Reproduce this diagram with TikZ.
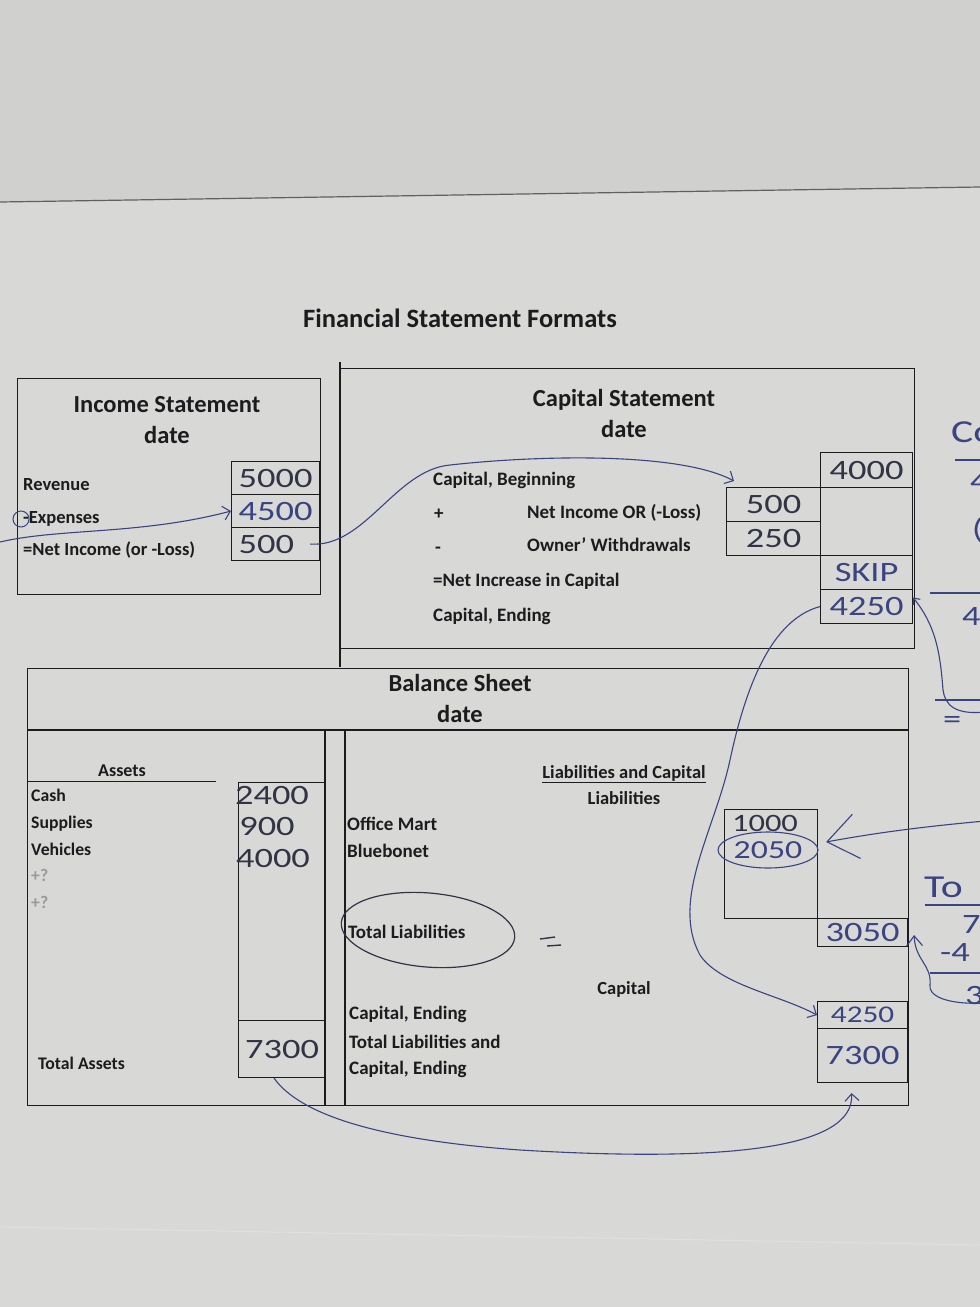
\documentclass[tikz,border=0pt]{standalone}
\usepackage{fontspec}
\setmainfont{Carlito}
\newfontfamily\handfont[FakeStretch=1.3]{Carlito}
\usetikzlibrary{arrows.meta}
\definecolor{paper}{RGB}{216,216,214}
\definecolor{papertop}{RGB}{208,208,206}
\definecolor{ink}{RGB}{28,28,30}
\definecolor{pen}{RGB}{58,68,128}
\definecolor{pencil}{RGB}{50,52,70}
\tikzset{
 ttl/.style={font=\bfseries\fontsize{24.5}{27}\selectfont, text=ink, inner sep=0, anchor=base},
 lbl/.style={font=\bfseries\fontsize{19}{22}\selectfont, text=ink, inner sep=0, anchor=base west},
 islbl/.style={font=\bfseries\fontsize{18.5}{21}\selectfont, text=ink, inner sep=0, anchor=base west},
 slbl/.style={font=\bfseries\fontsize{17.7}{20}\selectfont, text=ink, inner sep=0, anchor=base west},
 clbl/.style={font=\bfseries\fontsize{18.5}{21}\selectfont, text=ink, inner sep=0, anchor=base},
 frame/.style={draw=ink, line width=1.3pt, inner sep=0, anchor=north west},
 cell/.style={draw=ink, line width=1.1pt, inner sep=0, anchor=north west},
 hw/.style={font=\handfont\fontsize{28}{30}\selectfont, text=pencil},
 hwb/.style={font=\handfont\fontsize{28}{30}\selectfont, text=pen},
 penline/.style={draw=pen, line width=1.1pt},
 barb/.style={-{Straight Barb[length=7pt,width=14pt]}},
}
\begin{document}
\begin{tikzpicture}[x=1pt,y=-1pt]
\fill[paper] (0,0) rectangle (980,1307);
\fill[papertop] (0,0) -- (980,0) -- (980,187) -- (0,202) -- cycle;
\useasboundingbox (0,0) rectangle (980,1307);
\begin{scope}
\clip (0,0) rectangle (980,1307);
\draw[ink!70, line width=1.2pt] (0,202) -- (980,187);
\draw[black!12, line width=1pt] (0,1227) -- (980,1245);

% title
\node[ttl, font=\bfseries\fontsize{26.5}{29}\selectfont] (title) at (460,327) {Financial Statement Formats};

% income statement
\node[frame, minimum width=303, minimum height=216] (isframe) at (17,378) {};
\node[ttl] (istitle) at (167,412) {Income Statement};
\node[ttl] (isdate) at (167,443) {date};
\node[islbl] (isrevl) at (23,490) {Revenue};
\node[islbl] (isexpl) at (23,523) {-Expenses};
\node[islbl] (isnil) at (23,555) {=Net Income (or -Loss)};
\node[cell, hw, minimum width=88, minimum height=33] (isrev) at (231,461) {5000};
\node[cell, hwb, minimum width=88, minimum height=33] (isexp) at (231,494) {4500};
\node[cell, hw, minimum width=88, minimum height=33] (isni) at (231,527) {500\phantom{0}};
\node[draw=pen, line width=1pt, circle, minimum size=16, inner sep=0] (minuscirc) at (21,519) {};
\coordinate (expstart) at (0,542);
\draw[penline, barb] (expstart) .. controls (60,528) and (140,535) .. (isexp.west);

% capital statement
\node[frame, minimum width=574, minimum height=280] (csframe) at (340,368) {};
\draw[ink, line width=1.3pt] (340,362) -- (340,667);
\node[ttl] (cstitle) at (624,406) {Capital Statement};
\node[ttl] (csdate) at (624,437) {date};
\node[lbl] (csbeg) at (433,485) {Capital, Beginning};
\node[lbl] (csplus) at (434,519) {+};
\node[lbl] (csni) at (527,518) {Net Income OR (-Loss)};
\node[lbl] (csminus) at (435,553) {-};
\node[lbl] (csow) at (527,551) {Owner' Withdrawals};
\node[lbl] (csinc) at (433,586) {=Net Increase in Capital};
\node[lbl] (csend) at (433,621) {Capital, Ending};
\node[cell, hw, minimum width=92, minimum height=35] (cs4000) at (820,452) {4000};
\node[cell, minimum width=92, minimum height=68] (csgap) at (820,487) {};
\node[cell, hwb, minimum width=92, minimum height=34] (csskip) at (820,555) {SKIP};
\node[cell, hwb, minimum width=92, minimum height=34] (cs4250) at (820,589) {4250};
\node[cell, hw, minimum width=94, minimum height=34] (cs500) at (726,487) {500};
\node[cell, hw, minimum width=94, minimum height=34] (cs250) at (726,521) {250};
\draw[penline, barb] ([xshift=-10]isni.east) .. controls (365,548) and (395,470) .. (450,465)
  .. controls (540,455) and (680,452) .. ([shift={(8,-6)}]cs500.north west);

% balance sheet
\node[frame, minimum width=881, minimum height=437] (bsframe) at (27,668) {};
\node[ttl] (bstitle) at (460,691) {Balance Sheet};
\node[ttl] (bsdate) at (460,722) {date};
\draw[ink, line width=2.2pt] (27,730) -- (908,730);
\draw[ink, line width=1.2pt] (325,730) -- (325,1105);
\draw[ink, line width=1.2pt] (345,730) -- (345,1105);

\node[clbl, font=\bfseries\fontsize{18}{20}\selectfont] (assets) at (122,776) {Assets};
\draw[ink, line width=1pt] (28,781) -- (216,781);
\node[cell, minimum width=87, minimum height=238] (acol) at (238,782) {};
\node[hw] (a2400) at (272,795) {2400};
\node[hw] (a900) at (267,826) {900};
\node[hw] (a4000) at (273,858) {4000};
\node[cell, hw, minimum width=87, minimum height=57] (atotal) at (238,1020) {7300};
\node[slbl] (cash) at (31,801) {Cash};
\node[slbl] (supp) at (31,828) {Supplies};
\node[slbl] (veh) at (31,855) {Vehicles};
\node[slbl, text=ink!45] (q1) at (31,881) {+?};
\node[slbl, text=ink!45] (q2) at (31,908) {+?};
\node[slbl] (tassets) at (38,1069) {Total Assets};

\node[clbl] (lac) at (624,778) {\underline{Liabilities and Capital}};
\node[clbl] (liab) at (624,804) {Liabilities};
\node[lbl] (om) at (347,830) {Office Mart};
\node[lbl] (bb) at (347,857) {Bluebonet};
\node[lbl] (tl) at (348,938) {Total Liabilities};
\node[clbl] (capl) at (624,994) {Capital};
\node[lbl] (ce) at (349,1019) {Capital, Ending};
\node[lbl] (tla) at (349,1048) {Total Liabilities and};
\node[lbl] (tlb) at (349,1074) {Capital, Ending};
\draw[draw=pencil, line width=1.2pt] (428,930) ellipse [x radius=87, y radius=37, rotate=-5];
\draw[pencil, line width=1.4pt] (540,939) -- (555,937);
\draw[pencil, line width=1.4pt] (547,946) -- (561,945);

\node[cell, minimum width=93, minimum height=109] (lbox) at (724,809) {};
\node[hw, font=\handfont\fontsize{25}{27}\selectfont] (l1000) at (765,823) {1000};
\node[hwb, font=\handfont\fontsize{26}{27}\selectfont] (l2050) at (768,850) {2050};
\draw[penline] (l2050.center) ellipse [x radius=50, y radius=18];
\node[cell, hwb, minimum width=90, minimum height=28] (l3050) at (817,918) {3050};
\node[cell, hwb, font=\handfont\fontsize{24}{26}\selectfont, minimum width=90, minimum height=27] (bs4250) at (817,1001) {4250};
\node[cell, hwb, minimum width=90, minimum height=54] (bs7300) at (817,1028) {7300};

% connectors
\draw[penline, barb] (cs4250.west) .. controls (770,620) and (745,690) .. (730,760)
  .. controls (715,830) and (670,900) .. (700,955) .. controls (720,985) and (780,995) .. (bs4250.west);
\draw[penline, barb] ([xshift=-8]atotal.south) .. controls (300,1115) and (380,1140) .. (520,1150)
  .. controls (720,1162) and (855,1150) .. ([shift={(-11,10)}]bs7300.south);
\coordinate (m2) at (985,821);
\draw[penline, -{Straight Barb[length=30pt,width=45pt]}] (m2) .. controls (930,826) and (880,832) .. ([shift={(8,33)}]lbox.north east);
\coordinate (m1) at (985,712);
\draw[penline, -{Straight Barb[length=5pt,width=9pt]}] (m1) .. controls (955,715) and (945,705) .. (943,690)
  .. controls (940,650) and (935,625) .. ([yshift=9]cs4250.east);
\coordinate (m3) at (985,1003);
\draw[penline, -{Straight Barb[length=10pt,width=16pt]}] (m3) .. controls (945,1005) and (928,995) .. (930,985)
  .. controls (932,965) and (915,960) .. ([shift={(6,17)}]l3050.north east);

% margin notes
\node[hwb, font=\handfont\fontsize{32}{32}\selectfont, anchor=west, inner sep=0] (mco) at (951,432) {Co};
\draw[penline] (955,460) -- (985,460);
\node[hwb, anchor=west, inner sep=0] (m4a) at (970,482) {4};
\node[hwb, anchor=west, inner sep=0] (mpar) at (972,530) {(};
\draw[penline] (930,593) -- (985,593);
\node[hwb, anchor=west, inner sep=0] (m4b) at (962,617) {4};
\draw[penline] (935,700) -- (985,700);
\node[hwb, anchor=west, inner sep=0] (meq) at (943,722) {=};
\node[hwb, font=\handfont\fontsize{32}{32}\selectfont, anchor=west, inner sep=0] (mto) at (924,887) {To};
\draw[penline] (925,905) -- (985,905);
\node[hwb, anchor=west, inner sep=0] (m7) at (962,925) {7};
\node[hwb, anchor=west, inner sep=0] (m4c) at (940,952) {-4};
\draw[penline] (930,973) -- (985,973);
\node[hwb, anchor=west, inner sep=0] (m3n) at (965,995) {3};
\end{scope}
\end{tikzpicture}
\end{document}
